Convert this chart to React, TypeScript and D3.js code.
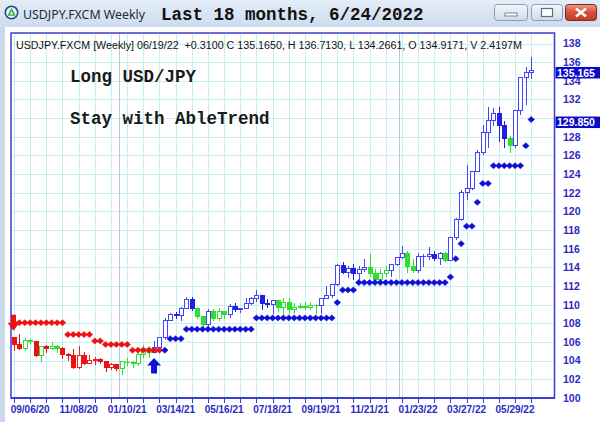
import React from "react";
import * as d3 from "d3";

// week of the first bar (FXCM weekly bars are stamped on Sunday)
const START = new Date(2020, 7, 16);

const opens = [
  106.58, 105.8, 105.37, 106.24, 106.14, 104.56, 105.57, 105.32, 105.6, 105.4,
  104.7, 104.65, 103.35, 104.62, 103.8, 104.1, 104.17, 104.0, 103.3, 103.6,
  103.22, 103.9, 103.86, 103.78, 104.68, 105.38, 104.95, 105.45, 106.56, 108.36,
  109.04, 108.87, 109.66, 110.6, 109.65, 108.78, 107.88, 109.3, 108.58, 109.35,
  108.96, 109.85, 109.52, 109.66, 110.21, 110.76, 111.05, 110.14, 110.06, 110.55,
  109.72, 110.25, 109.58, 109.79, 109.84, 109.71, 109.93, 109.93, 110.74, 111.05,
  112.23, 114.22, 113.5, 113.95, 113.4, 113.87, 114.0, 113.38, 112.8, 113.42,
  113.7, 114.4, 115.08, 115.55, 114.2, 113.68, 115.24, 115.25, 115.43, 114.99,
  115.55, 114.8, 117.3, 119.17, 122.05, 122.5, 124.35, 126.4, 128.5, 129.8,
  130.56, 129.25, 127.85, 127.1, 130.85, 134.4, 134.92,
];
const highs = [
  106.6, 106.95, 106.55, 106.38, 106.18, 105.7, 105.8, 106.11, 105.75, 105.53,
  104.9, 105.35, 105.68, 105.0, 104.76, 104.45, 104.42, 104.1, 103.9, 103.8,
  104.09, 104.4, 104.09, 104.94, 105.77, 105.65, 106.22, 106.69, 108.64, 109.24,
  109.36, 109.85, 110.97, 110.96, 109.85, 108.9, 109.7, 109.7, 109.79, 109.47,
  110.2, 110.33, 109.8, 110.82, 110.98, 111.66, 111.1, 110.7, 110.59, 110.6,
  110.8, 110.8, 110.26, 110.25, 110.42, 110.45, 110.16, 110.8, 112.08, 112.25,
  114.47, 114.7, 114.3, 114.44, 114.3, 114.97, 115.52, 113.9, 113.95, 114.26,
  114.49, 115.2, 116.35, 115.84, 114.97, 115.69, 115.57, 116.34, 115.89, 115.76,
  115.8, 117.35, 119.4, 122.45, 125.09, 124.4, 126.68, 129.4, 131.25, 131.16,
  131.35, 129.78, 128.24, 130.98, 134.55, 135.6, 136.71,
];
const lows = [
  105.1, 105.2, 105.1, 105.9, 104.54, 104.0, 104.95, 105.3, 104.95, 104.34,
  104.03, 103.18, 103.2, 103.65, 103.7, 103.67, 103.76, 102.88, 103.1, 102.95,
  102.59, 103.52, 103.33, 103.54, 104.42, 104.41, 104.92, 105.0, 106.37, 108.34,
  108.6, 108.41, 109.6, 109.38, 108.61, 107.48, 107.47, 108.34, 108.34, 108.57,
  108.72, 109.32, 109.19, 109.6, 110.09, 110.42, 109.53, 109.72, 109.07, 109.35,
  108.72, 109.12, 109.11, 109.6, 109.59, 109.59, 109.11, 109.11, 110.72, 110.82,
  112.1, 113.41, 112.95, 112.73, 112.72, 113.59, 113.05, 112.53, 112.73, 113.13,
  113.13, 114.26, 115.02, 113.48, 113.47, 113.47, 114.15, 114.95, 114.78, 114.41,
  114.65, 114.76, 117.09, 119.1, 121.28, 122.4, 124.3, 126.2, 126.95, 129.3,
  127.52, 126.95, 126.36, 126.86, 130.4, 131.5, 134.27,
];
const closes = [
  105.8, 105.37, 106.24, 106.14, 104.56, 105.57, 105.32, 105.6, 105.4, 104.7,
  104.65, 103.35, 104.62, 103.8, 104.1, 104.17, 104.0, 103.3, 103.6, 103.25,
  103.94, 103.86, 103.78, 104.68, 105.38, 104.95, 105.45, 106.56, 108.36, 109.04,
  108.87, 109.66, 110.6, 109.65, 108.78, 107.88, 109.3, 108.58, 109.35, 108.96,
  109.85, 109.52, 109.66, 110.21, 110.76, 111.05, 110.14, 110.06, 110.55, 109.72,
  110.25, 109.58, 109.79, 109.84, 109.71, 109.93, 109.93, 110.74, 111.05, 112.23,
  114.22, 113.5, 113.95, 113.4, 113.87, 114.0, 113.38, 112.8, 113.42, 113.7,
  114.4, 115.08, 115.55, 114.2, 113.68, 115.24, 115.25, 115.43, 114.99, 115.55,
  114.8, 117.3, 119.17, 122.05, 122.5, 124.35, 126.4, 128.5, 129.8, 130.56,
  129.25, 127.85, 127.1, 130.85, 134.4, 134.96, 135.165,
];
// bar colour per week: r = down trend, g = neutral, b = up trend
const barTrend =
  "rrggrgrggr" + "rrrrrrrrrr" + "ggggggbbbb" + "bbbbggbggg" + "bbbbbbbbbg" +
  "gggggggbbb" + "bbbbbbgggg" + "bbbggbbbbb" + "gbbbbbbbbb" + "bbgbbbb";

// AbleTrend stop dots
const stopLevels = [
  108.07, 108.07, 108.07, 108.07, 108.07, 108.07, 108.07, 108.07, 108.07, 108.07,
  106.8, 106.8, 106.8, 106.8, 106.8, 106.12, 106.12, 105.74, 105.74, 105.74,
  105.74, 105.74, 105.13, 105.13, 105.13, 105.13, 105.13, 105.13, 105.13, 106.36,
  106.36, 106.36, 107.38, 107.38, 107.38, 107.38, 107.38, 107.38, 107.38, 107.38,
  107.38, 107.38, 107.38, 107.38, 107.38, 108.58, 108.58, 108.58, 108.58, 108.58,
  108.58, 108.58, 108.58, 108.58, 108.58, 108.58, 108.58, 108.58, 108.58, 108.58,
  110.23, 111.58, 111.58, 111.58, 112.37, 112.37, 112.37, 112.37, 112.37, 112.37,
  112.37, 112.37, 112.37, 112.37, 112.37, 112.37, 112.37, 112.37, 112.37, 112.37,
  112.37, 112.97, 114.93, 116.54, 118.42, 118.42, 120.98, 123.0, 123.0, 124.9,
  124.9, 124.9, 124.9, 124.9, 124.9, 127.04, 129.85,
];
const stopTrend = "r".repeat(28) + "b".repeat(69);

// 130 sits behind the stop value box, as in the original
const priceTicks = [100, 102, 104, 106, 108, 110, 112, 114, 116, 118, 120, 122, 124, 126, 128, 132, 134, 136, 138];
const gridLevels = [100, 102, 104, 106, 108, 110, 112, 114, 116, 118, 120, 122, 124, 126, 128, 130, 132, 134, 136, 138];
const dateLabels = ["09/06/20", "11/08/20", "01/10/21", "03/14/21", "05/16/21", "07/18/21", "09/19/21", "11/21/21", "01/23/22", "03/27/22", "05/29/22"];
const yearStarts = ["01/01/21", "01/01/22"];
const sellSignalWeek = 0;
const buySignalWeek = 26;
const lastClose = 135.165;
const lastStop = 129.85;

// filled bodies / hollow outlines
const FILL: Record<string, string> = { r: "#ee1111", g: "#2ee02e", b: "#1f1fe0" };
const LINE: Record<string, string> = { r: "#f02020", g: "#30e030", b: "#4444ff" };
const DOT: Record<string, string> = { r: "#ee1111", b: "#0f0fd8" };
const AXIS_BLUE = "#2a2ac4";
const SANS = "'Liberation Sans', Arial, sans-serif";
const MONO = "'Liberation Mono', 'Courier New', monospace";

const parse = d3.timeParse("%m/%d/%y");

export default function App() {
  const n = closes.length;
  const left = 11, top = 33, right = 554.5, bottom = 398;
  const x = d3.scaleLinear().domain([0, n - 1]).range([14, 531.2]);
  const y = d3.scaleLinear().domain([100, 138]).range([398, 43.5]);
  const px = (i: number) => Math.round(x(i)) + 0.5;
  const py = (v: number) => Math.round(y(v)) + 0.5;

  const gridWeeks = d3.range(0, n, 3);
  const labelWeeks = dateLabels.map((s) => ({ s, i: d3.timeWeek.count(START, parse(s)!) }));
  const yearWeeks = yearStarts.map((s) => d3.timeWeek.count(START, parse(s)!) + 0.5);

  const diamond = "M0,-3L3.3,0L0,3L-3.3,0Z";

  const bx = x(buySignalWeek);
  const by = y(lows[buySignalWeek]) + 6;
  const sx = x(sellSignalWeek) - 0.5;
  const sy = y(stopLevels[sellSignalWeek]) + 8;

  return (
    <svg width={600} height={422} style={{ display: "block", position: "absolute", left: 0, top: 0 }}>
      <defs>
        <linearGradient id="tb" x1="0" y1="0" x2="0" y2="1">
          <stop offset="0" stopColor="#e4edf8" />
          <stop offset="1" stopColor="#cddcef" />
        </linearGradient>
        <linearGradient id="btn" x1="0" y1="0" x2="0" y2="1">
          <stop offset="0" stopColor="#f4f7fb" />
          <stop offset="1" stopColor="#cfdbea" />
        </linearGradient>
        <linearGradient id="cls" x1="0" y1="0" x2="0" y2="1">
          <stop offset="0" stopColor="#ee9a86" />
          <stop offset="0.5" stopColor="#d6503a" />
          <stop offset="1" stopColor="#c23a28" />
        </linearGradient>
      </defs>

      {/* window chrome */}
      <rect x={0} y={0} width={600} height={422} fill="#c8d9ee" />
      <rect x={0} y={0} width={600} height={27} fill="url(#tb)" />
      <rect x={5} y={27} width={595} height={395} fill="#ffffff" />
      <circle cx={11.5} cy={12.5} r={7} fill="#1d4f7d" />
      <circle cx={11.5} cy={12.5} r={5.4} fill="#e8f2fb" />
      <path d="M11.5,7.8L15.6,15.8L7.4,15.8Z" fill="#2fae3a" />
      <path d="M11.5,11L13.2,14.4L9.8,14.4Z" fill="#e8f2fb" />
      <text x={23} y={19} fontFamily="'Noto Sans', 'Open Sans', sans-serif" fontSize={12} fill="#1e2a3a" textLength={122} lengthAdjust="spacingAndGlyphs">
        USDJPY.FXCM Weekly
      </text>
      <text x={161} y={20} fontFamily={MONO} fontWeight="bold" fontSize={17.5} fill="#111">
        Last 18 months, 6/24/2022
      </text>
      <rect x={494.5} y={4.5} width={33} height={16} rx={3} fill="url(#btn)" stroke="#8c9db5" />
      <rect x={505} y={13} width={12} height={3} fill="#fff" stroke="#5a6e8a" strokeWidth={0.8} />
      <rect x={531.5} y={4.5} width={31} height={16} rx={3} fill="url(#btn)" stroke="#8c9db5" />
      <rect x={541.5} y={8.5} width={11} height={8} fill="#fff" stroke="#5a6e8a" strokeWidth={1.2} />
      <rect x={565.5} y={4.5} width={31} height={16} rx={3} fill="url(#cls)" stroke="#7d2a20" />
      <path d="M576,8.5L586,16.5M586,8.5L576,16.5" stroke="#fff" strokeWidth={2.4} />

      {/* grid */}
      <g stroke="#c4f0f0" strokeWidth={1} shapeRendering="crispEdges">
        {gridLevels.map((v) => (
          <line key={"h" + v} x1={left} x2={right} y1={py(v)} y2={py(v)} />
        ))}
        {gridWeeks.map((i) => (
          <line key={"v" + i} x1={px(i)} x2={px(i)} y1={top} y2={bottom} />
        ))}
      </g>
      <g stroke="#b6c6dc" strokeWidth={1} shapeRendering="crispEdges">
        {yearWeeks.map((i) => (
          <line key={"yr" + i} x1={px(i)} x2={px(i)} y1={top} y2={bottom} />
        ))}
      </g>

      {/* frame and bottom ticks */}
      <rect x={left} y={top} width={right - left} height={bottom - top} fill="none" stroke="#3c3cd4" strokeWidth={1.5} />
      <line x1={left} x2={right} y1={bottom} y2={bottom} stroke="#3c3cd4" strokeWidth={2} />
      <g stroke="#3c3cd4" strokeWidth={1.2} shapeRendering="crispEdges">
        {gridWeeks.map((i) => (
          <line key={"t" + i} x1={px(i)} x2={px(i)} y1={bottom} y2={bottom + 4.5} />
        ))}
      </g>
      <g fontFamily={SANS} fontWeight="bold" fontSize={10} fill={AXIS_BLUE} textAnchor="middle">
        {labelWeeks.map((d) => (
          <text key={d.s} x={x(d.i)} y={413}>
            {d.s}
          </text>
        ))}
      </g>
      <g fontFamily={SANS} fontWeight="bold" fontSize={10.5} fill={AXIS_BLUE}>
        {priceTicks.map((v) => (
          <text key={"p" + v} x={563} y={y(v) + 3.8}>
            {v}
          </text>
        ))}
      </g>

      {/* header line and notes */}
      <text x={16} y={49} fontFamily={SANS} fontSize={10} fill="#111" textLength={506} lengthAdjust="spacingAndGlyphs">
        USDJPY.FXCM [Weekly] 06/19/22{"\u00a0 "}+0.3100 C 135.1650, H 136.7130, L 134.2661, O 134.9171, V 2.4197M
      </text>
      <text x={70} y={82} fontFamily={MONO} fontWeight="bold" fontSize={17.5} fill="#1a1a1a">
        Long USD/JPY
      </text>
      <text x={70} y={123.5} fontFamily={MONO} fontWeight="bold" fontSize={17.5} fill="#1a1a1a">
        Stay with AbleTrend
      </text>

      {/* candles */}
      <g shapeRendering="crispEdges">
        {closes.map((c, i) => {
          const o = opens[i];
          const t = barTrend[i];
          const up = c >= o;
          const col = up ? LINE[t] : FILL[t];
          const cx = px(i);
          const yTop = py(Math.max(o, c));
          const yBot = py(Math.min(o, c));
          return (
            <g key={"c" + i}>
              <line x1={cx} x2={cx} y1={py(highs[i])} y2={py(lows[i])} stroke={col} strokeWidth={1} />
              <rect
                x={cx - 2}
                y={yTop}
                width={4}
                height={Math.max(0.01, yBot - yTop)}
                fill={up ? "#ffffff" : col}
                stroke={col}
                strokeWidth={1}
              />
            </g>
          );
        })}
      </g>

      {/* stop dots */}
      <g>
        {stopLevels.map((v, i) => (
          <path
            key={"s" + i}
            d={diamond}
            transform={`translate(${x(i)},${y(v)})`}
            fill={DOT[stopTrend[i]]}
            stroke={DOT[stopTrend[i]]}
            strokeWidth={0.6}
          />
        ))}
      </g>

      {/* signal arrows */}
      <path
        d={`M${sx - 2.5},${sy - 16}L${sx + 2.5},${sy - 16}L${sx + 2.5},${sy - 8}L${sx + 6},${sy - 8}L${sx},${sy}L${sx - 6},${sy - 8}L${sx - 2.5},${sy - 8}Z`}
        fill="#ee1111"
      />
      <path
        d={`M${bx},${by}L${bx + 7},${by + 7.5}L${bx + 3},${by + 7.5}L${bx + 3},${by + 15.5}L${bx - 3},${by + 15.5}L${bx - 3},${by + 7.5}L${bx - 7},${by + 7.5}Z`}
        fill="#1010dc"
      />

      {/* last value boxes */}
      {[lastClose, lastStop].map((v) => (
        <g key={"box" + v}>
          <rect x={555.5} y={y(v) - 3} width={45} height={11.5} fill="#0a0ac8" />
          <text x={557} y={y(v) + 6.8} fontFamily={SANS} fontWeight="bold" fontSize={10.5} fill="#ffffff">
            {v.toFixed(3)}
          </text>
        </g>
      ))}
    </svg>
  );
}
